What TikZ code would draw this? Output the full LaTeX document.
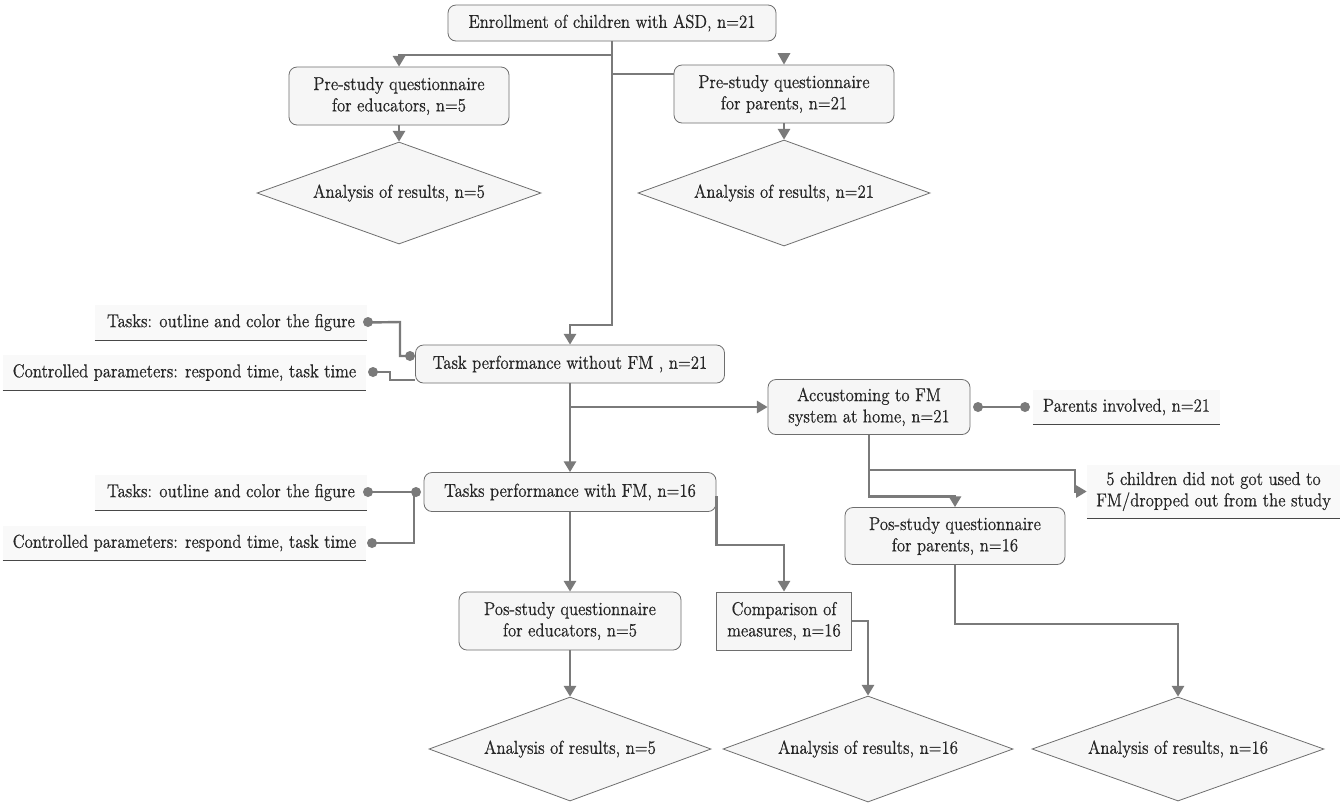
\documentclass[tikz,border=0pt]{standalone}
\usepackage{fontspec}
\setmainfont{Latin Modern Roman}[FakeStretch=0.9, FakeBold=0.6]
\usetikzlibrary{shapes.geometric,arrows.meta}
\definecolor{ln}{HTML}{7A7A7A}
\definecolor{bd}{HTML}{6E6E6E}
\definecolor{bg}{HTML}{F6F6F6}
\definecolor{lbg}{HTML}{F9F9F9}
\definecolor{tx}{HTML}{262626}
\begin{document}
\begin{tikzpicture}[x=0.75pt,y=-0.75pt,
 every node/.style={font=\rmfamily\fontsize{14}{16}\selectfont, text=tx, align=center},
 rbox/.style={draw=bd, fill=bg, rounded corners=6pt, line width=0.6pt, inner sep=0pt},
 sbox/.style={draw=bd, fill=bg, line width=0.6pt, inner sep=0pt},
 dia/.style={diamond, draw=bd, fill=bg, line width=0.6pt, inner sep=0pt, shape aspect=2.8},
 lab/.style={fill=lbg, inner sep=0pt, append after command={(\tikzlastnode.south west) edge[draw=tx!85, line width=0.7pt] (\tikzlastnode.south east)}},
 conn/.style={draw=ln, line width=1.8pt},
 arr/.style={conn, -{Triangle[length=8pt,width=9pt]}},
 dot/.style={circle, fill=ln, inner sep=0pt, minimum size=7.5pt},
]
\useasboundingbox (0,0) rectangle (1344,808);
\fill[white] (0,0) rectangle (1344,808);

% main boxes
\node[rbox, minimum width=246pt, minimum height=27pt] (enr) at (612,23) {Enrollment of children with ASD, n=21};
\node[rbox, minimum width=165pt, minimum height=43.5pt] (pedu) at (399,96) {Pre-study questionnaire\\for educators, n=5};
\node[rbox, minimum width=165pt, minimum height=43.5pt] (ppar) at (784,94) {Pre-study questionnaire\\for parents, n=21};
\node[dia, minimum width=213pt, minimum height=76.5pt] (d1) at (399,193) {Analysis of results, n=5};
\node[dia, minimum width=219pt, minimum height=79.5pt] (d2) at (784,193) {Analysis of results, n=21};
\node[rbox, minimum width=231.75pt, minimum height=28.5pt] (t1) at (570,364) {Task performance without FM , n=21};
\node[rbox, minimum width=151.5pt, minimum height=41.25pt] (acc) at (869,407) {Accustoming to FM\\system at home, n=21};
\node[rbox, minimum width=219pt, minimum height=29.25pt] (t2) at (570,492) {Tasks performance with FM, n=16};
\node[rbox, minimum width=165pt, minimum height=42.75pt] (pp2) at (955,536) {Pos-study questionnaire\\for parents, n=16};
\node[rbox, minimum width=166.5pt, minimum height=43.5pt] (pe2) at (570,621) {Pos-study questionnaire\\for educators, n=5};
\node[sbox, minimum width=101.25pt, minimum height=43.5pt] (cmp) at (784,621) {Comparison of\\measures, n=16};
\node[dia, minimum width=211.5pt, minimum height=78pt] (d3) at (570,749) {Analysis of results, n=5};
\node[dia, minimum width=217.5pt, minimum height=79.5pt] (d4) at (868,749) {Analysis of results, n=16};
\node[dia, minimum width=219pt, minimum height=78pt] (d5) at (1178,749) {Analysis of results, n=16};

% side labels
\node[lab, minimum width=204pt, minimum height=26.25pt] (l1) at (231,322.5) {Tasks: outline and color the figure};
\node[lab, minimum width=272.25pt, minimum height=26.25pt] (l2) at (184.5,372.5) {Controlled parameters: respond time, task time};
\node[lab, minimum width=204pt, minimum height=26.25pt] (l3) at (231,492.5) {Tasks: outline and color the figure};
\node[lab, minimum width=272.25pt, minimum height=26.25pt] (l4) at (184.5,543) {Controlled parameters: respond time, task time};
\node[lab, minimum width=140.25pt, minimum height=25.5pt] (l5) at (1126.5,407) {Parents involved, n=21};
\node[lab, minimum width=189.75pt, minimum height=39.75pt] (l6) at (1213.5,491.5) {5 children did not got used to\\FM/dropped out from the study};

% connectors from enrollment
\coordinate (b1) at (612,55);
\coordinate (b2) at (612,74);
\draw[arr] (enr.south) -- (612,325) -| (t1.north);
\draw[arr] (b1) -| (pedu.north);
\draw[conn] (b2) -- (b2 -| ppar.west);
\fill[ln] (777.5,53) -- (790.5,53) -- (784,64.5) -- cycle;
\draw[arr] (pedu.south) -- (d1.north);
\draw[arr] (ppar.south) -- (d2.north);

% task performance flow
\coordinate (b3) at (570,407);
\draw[arr] (t1.south) -- (t2.north);
\draw[arr] (b3) -- (acc.west);
\draw[arr] (acc.south) -- ++(0,61.5) -| (pp2.north);
\coordinate (b4) at (869,470);
\draw[arr] (b4) -- (1075,470) -- (1075,491.5) -- (l6.west);
\draw[arr] (pp2.south) -- ++(0,59) -| (d5.north);
\draw[arr] (t2.south) -- (pe2.north);
\draw[arr] (pe2.south) -- (d3.north);
\draw[arr] (t2.east) ++(0,4) -- ++(0,49) -| (cmp.north);
\draw[arr] (cmp.east) -| (d4.north);

% dot connectors
\coordinate (c2) at (t1.west |- 0,380);
\draw[conn] (l1.east) ++(1,0) -- (400,322) -- (400,356) -- (410,356);
\node[dot] (q1) at (368,322) {};
\node[dot] (q2) at (410,356) {};
\draw[conn] (373,372) -- (390,372) -- (390,380) -- (c2);
\node[dot] (q3) at (373,372) {};
\draw[conn] (368,492) -- (416,492);
\draw[conn] (372,543) -- (414,543) -- (414,492);
\node[dot] (q4) at (368,492) {};
\node[dot] (q5) at (416,492) {};
\node[dot] (q6) at (372,543) {};
\draw[conn] (978,407) -- (1025,407);
\node[dot] (q7) at (978,407) {};
\node[dot] (q8) at (1025,407) {};
\end{tikzpicture}
\end{document}
